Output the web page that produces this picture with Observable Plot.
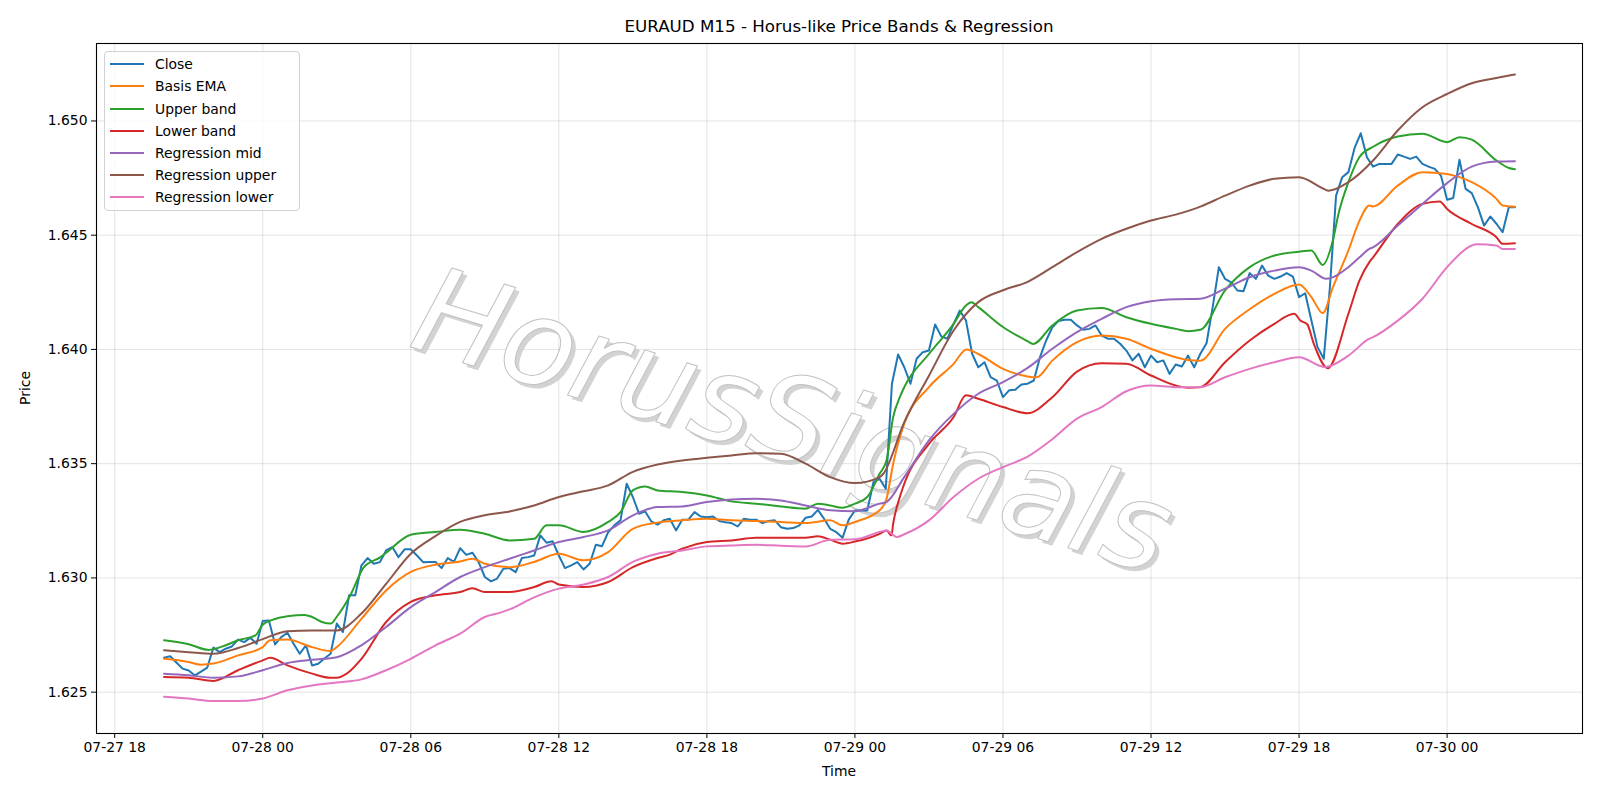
<!DOCTYPE html>
<html>
<head>
<meta charset="utf-8">
<script src="https://cdn.jsdelivr.net/npm/d3@7"></script>
<script src="https://cdn.jsdelivr.net/npm/@observablehq/plot@0.6"></script>
<style>
  body { margin: 0; background: #fff; font-family: "DejaVu Sans", sans-serif; }
  #wrap { position: relative; width: 1600px; height: 800px; overflow: hidden; background: #fff; }
  .title { position: absolute; left: 96px; width: 1486px; top: 15px; text-align: center; font-size: 16.7px; line-height: 22px; color: #000; }
  .xlabel { position: absolute; left: 96px; width: 1486px; top: 762px; text-align: center; font-size: 13.9px; line-height: 18px; color: #000; }
  .ylabel { position: absolute; left: 25px; top: 388px; font-size: 13.9px; line-height: 18px; color: #000; transform: translate(-50%, -50%) rotate(-90deg); white-space: nowrap; }
  .legend { position: absolute; left: 104px; top: 51px; width: 196px; height: 160px; box-sizing: border-box; border: 1px solid #d3d3d3; border-radius: 4px; background: rgba(255,255,255,0.8); z-index: 5; }
  .legend .row { position: absolute; left: 0; height: 18px; width: 190px; }
  .legend .swatch { position: absolute; left: 5px; top: 8px; width: 34px; height: 2px; }
  .legend .lab { position: absolute; left: 50px; top: 0; font-size: 13.9px; line-height: 18px; color: #000; white-space: nowrap; }
  #chart { position: absolute; left: 0; top: 0; }
</style>
</head>
<body>
<div id="wrap">
  <div id="chart"></div>
  <div class="title" id="title"></div>
  <div class="xlabel" id="xlabel"></div>
  <div class="ylabel" id="ylabel"></div>
  <div class="legend" id="legend"></div>
</div>
<script>
// ---------------- Data ----------------
const chartTitle = "EURAUD M15 - Horus-like Price Bands & Regression";
const xLabel = "Time";
const yLabel = "Price";
const watermarkText = ["HorusSignals"];

const seriesNames = ["Close", "Basis EMA", "Upper band", "Lower band", "Regression mid", "Regression upper", "Regression lower"];
const seriesColors = ["#1f77b4", "#ff7f0e", "#2ca02c", "#d62728", "#9467bd", "#8c564b", "#e377c2"];

const xTickTimes = ["2025-07-27T18:00Z", "2025-07-28T00:00Z", "2025-07-28T06:00Z", "2025-07-28T12:00Z", "2025-07-28T18:00Z",
                    "2025-07-29T00:00Z", "2025-07-29T06:00Z", "2025-07-29T12:00Z", "2025-07-29T18:00Z", "2025-07-30T00:00Z"];
const yTickValues = [1.625, 1.630, 1.635, 1.640, 1.645, 1.650];

// Close: one value per 15-minute bar starting 2025-07-27 20:00 UTC
const closeStart = "2025-07-27T20:00:00Z";
const closeStepMinutes = 15;
const closeValues = [
  1.62651, 1.62657, 1.6263, 1.62603, 1.62595, 1.62573, 1.6259, 1.62607, 1.62695, 1.62675,
  1.6269, 1.627, 1.6273, 1.62719, 1.62738, 1.62712, 1.62811, 1.62814, 1.62709, 1.62741,
  1.6276, 1.62712, 1.62668, 1.62705, 1.62617, 1.62624, 1.62647, 1.62668, 1.628, 1.62763,
  1.62924, 1.62924, 1.63055, 1.63087, 1.63062, 1.63069, 1.6312, 1.63135, 1.63091, 1.63125,
  1.63125, 1.63098, 1.63069, 1.6307, 1.6307, 1.63043, 1.63087, 1.6307, 1.6313, 1.63101,
  1.6311, 1.63069, 1.63004, 1.62985, 1.62997, 1.6304, 1.63043, 1.63025, 1.63087, 1.63091,
  1.63098, 1.63186, 1.63154, 1.6316, 1.63098, 1.63043, 1.63055, 1.63069, 1.63037, 1.63062,
  1.63145, 1.63139, 1.632, 1.6323, 1.63252, 1.63412, 1.63354, 1.63281, 1.63291, 1.63247,
  1.63233, 1.63252, 1.63259, 1.63208, 1.63255, 1.63255, 1.63288, 1.63269, 1.63266, 1.63269,
  1.63249, 1.63244, 1.6324, 1.63225, 1.63259, 1.63255, 1.63255, 1.6324, 1.63249, 1.63252,
  1.63222, 1.63215, 1.63218, 1.6323, 1.63263, 1.63269, 1.63298, 1.63259, 1.63215, 1.632,
  1.63176, 1.63255, 1.63295, 1.63295, 1.63295, 1.63419, 1.63434, 1.6339, 1.6385, 1.63978,
  1.63922, 1.6385, 1.63959, 1.63988, 1.63995, 1.64109, 1.64057, 1.64047, 1.64112, 1.6417,
  1.64127, 1.63981, 1.63922, 1.63944, 1.63879, 1.63864, 1.63791, 1.63821, 1.63824, 1.63847,
  1.6385, 1.63864, 1.63966, 1.64039, 1.64097, 1.64124, 1.6413, 1.6413, 1.64105, 1.64086,
  1.6409, 1.64105, 1.64061, 1.64047, 1.64047, 1.64025, 1.63995, 1.63952, 1.63981, 1.63922,
  1.63973, 1.63944, 1.63952, 1.63893, 1.63934, 1.63925, 1.63973, 1.63922, 1.63981, 1.64027,
  1.64185, 1.6436, 1.64309, 1.64294, 1.64258, 1.64255, 1.64334, 1.64309, 1.64367, 1.64323,
  1.64309, 1.64319, 1.64334, 1.64319, 1.64229, 1.64246, 1.64127, 1.6401, 1.63959, 1.64272,
  1.64673, 1.64754, 1.64776, 1.64882, 1.64946, 1.64841, 1.648, 1.64812, 1.64812, 1.64812,
  1.64853, 1.64844, 1.64834, 1.64844, 1.64812, 1.648, 1.6479, 1.64761, 1.64655, 1.64663,
  1.6483, 1.64703, 1.64684, 1.64622, 1.64542, 1.64582, 1.6455, 1.64513, 1.64622, 1.64622
];

// Smooth series: [hours from 2025-07-28 00:00 UTC, price]
const bandOrigin = "2025-07-28T00:00:00Z";
const basisEMA = [[-4,1.62646],[-3,1.62632],[-2.5,1.6262],[-2,1.62625],[-1,1.62661],[0,1.62697],[0.3,1.62727],[1,1.6273],[2,1.62697],[2.75,1.6268],[3,1.62697],[4,1.62821],[5,1.62945],[6,1.63026],[7,1.63058],[8,1.63072],[8.5,1.63084],[9,1.63062],[10,1.63047],[11,1.6307],[12,1.63106],[13,1.63077],[14,1.63113],[15,1.63215],[16,1.63242],[17,1.63252],[18,1.63259],[19,1.63252],[20,1.63249],[21,1.63245],[22,1.6324],[23,1.63252],[23.5,1.6323],[24,1.63245],[25,1.63296],[25.28,1.63346],[25.55,1.635],[25.82,1.63616],[26,1.63675],[27,1.63835],[28,1.63937],[28.52,1.64],[29,1.6398],[30,1.63915],[31,1.63882],[31.36,1.63878],[32,1.63951],[33,1.64032],[34,1.64061],[35,1.64047],[36,1.64003],[37,1.63966],[37.5,1.63954],[38,1.63951],[39,1.6409],[40,1.64176],[41,1.64243],[42,1.64284],[42.5,1.64229],[42.96,1.64159],[43.37,1.64272],[44,1.64433],[44.45,1.64564],[44.85,1.6463],[45,1.64626],[46,1.64717],[47,1.64776],[48,1.64768],[48.5,1.64754],[49,1.64732],[50,1.64659],[50.25,1.6463],[50.75,1.64625]];
const upperBand = [[-4,1.62727],[-3,1.6271],[-2.2,1.62685],[-1.5,1.62705],[-1,1.62727],[-0.3,1.62748],[0,1.62795],[0.5,1.6282],[1,1.62832],[1.7,1.62838],[2,1.62829],[2.4,1.62807],[2.75,1.628],[3,1.6283],[3.55,1.62924],[4.1,1.63047],[4.77,1.63091],[5,1.6311],[6,1.63189],[7,1.63201],[8,1.63211],[9,1.63193],[10,1.63164],[11,1.63171],[11.5,1.6323],[12,1.6323],[13,1.63201],[14,1.63245],[14.5,1.63288],[15,1.63383],[15.5,1.634],[16,1.63383],[17,1.63376],[18,1.63361],[19,1.63335],[20,1.63325],[21,1.63313],[22,1.63303],[22.5,1.63325],[23,1.63317],[23.5,1.63307],[24,1.63325],[24.5,1.63354],[25,1.63456],[25.28,1.63514],[25.55,1.63704],[25.82,1.63791],[26,1.63835],[27,1.6398],[28,1.64112],[28.5,1.64192],[28.72,1.64207],[29,1.64185],[30,1.64098],[31,1.64036],[31.22,1.64024],[32,1.64105],[33,1.6417],[34,1.64181],[35,1.64141],[36,1.64112],[37,1.6409],[37.5,1.6408],[38,1.64086],[39,1.64258],[40,1.6436],[41,1.64411],[42,1.64428],[42.5,1.64433],[42.96,1.6437],[43.37,1.64477],[43.6,1.64594],[44,1.64732],[44.45,1.64842],[45,1.64887],[46,1.64932],[47,1.64944],[48,1.64907],[48.5,1.64929],[49,1.64918],[50,1.64827],[50.5,1.64794],[50.75,1.64789]];
const lowerBand = [[-4,1.62566],[-3,1.62563],[-2,1.62549],[-1,1.62596],[0,1.62639],[0.3,1.6265],[1,1.62617],[2,1.62581],[2.75,1.62563],[3,1.62563],[3.4,1.62581],[4,1.62646],[5,1.62807],[6,1.62895],[7,1.62924],[8,1.62938],[8.5,1.62955],[9,1.62938],[10,1.62938],[11,1.6296],[11.7,1.62985],[12,1.62971],[13,1.6296],[14,1.62982],[15,1.63047],[16,1.63087],[16.5,1.63102],[17,1.63128],[18,1.63157],[19,1.63164],[20,1.63176],[21,1.63176],[22,1.63176],[22.5,1.63182],[23,1.63167],[23.5,1.6315],[24,1.63159],[25,1.63193],[25.28,1.63208],[25.48,1.63186],[25.55,1.63237],[25.82,1.63354],[26,1.63412],[27,1.63587],[28,1.63704],[28.5,1.63799],[29,1.63784],[30,1.63748],[31,1.63721],[32,1.63791],[33,1.63903],[34,1.6394],[35,1.63937],[36,1.63886],[37,1.63842],[37.5,1.63832],[38,1.63835],[39,1.63944],[40,1.64039],[41,1.64112],[41.8,1.64156],[42.06,1.64126],[42.33,1.6411],[42.6,1.64024],[43.16,1.63918],[44,1.64156],[44.45,1.64302],[44.85,1.64382],[45,1.64403],[46,1.64549],[47,1.64637],[47.7,1.64648],[48,1.64615],[49,1.64549],[50,1.64491],[50.25,1.64462],[50.75,1.64465]];
const regressionMid = [[-4,1.62581],[-3,1.62574],[-2,1.62563],[-1,1.62569],[0,1.62596],[1,1.62628],[2,1.62642],[3,1.62653],[4,1.62705],[5,1.62785],[6,1.62872],[7,1.62938],[8,1.63004],[9,1.63047],[10,1.63084],[11,1.6312],[12,1.63157],[13,1.63179],[14,1.63208],[15,1.63274],[16,1.6331],[17,1.63313],[18,1.63332],[19,1.63343],[20,1.63346],[21,1.63339],[22,1.63317],[23,1.63296],[24,1.63292],[25,1.63325],[25.28,1.63332],[26,1.63441],[27,1.63602],[28,1.63718],[29,1.63806],[30,1.63857],[31,1.63919],[32,1.64003],[33,1.64076],[34,1.64134],[35,1.64185],[36,1.64211],[37,1.6422],[38,1.64222],[39,1.64266],[40,1.64316],[41,1.64345],[42,1.6436],[42.5,1.64345],[43.1,1.64309],[44,1.6436],[44.45,1.64403],[44.85,1.6444],[45,1.64447],[46,1.64542],[47,1.64637],[48,1.64728],[49,1.648],[50,1.64822],[50.75,1.64824]];
const regressionUpper = [[-4,1.62683],[-3,1.62675],[-2,1.62668],[-1,1.62693],[0,1.62732],[1,1.62767],[2,1.6277],[3,1.6277],[4,1.62844],[5,1.62974],[6,1.63106],[7,1.63183],[8,1.63245],[9,1.63274],[10,1.63291],[11,1.63317],[12,1.63354],[13,1.63379],[14,1.63405],[15,1.63464],[16,1.63496],[17,1.63514],[18,1.63526],[19,1.63536],[20,1.63546],[21,1.63543],[22,1.635],[23,1.63441],[24,1.63415],[25,1.63441],[25.15,1.63456],[26,1.63682],[27,1.63885],[28,1.64083],[29,1.64207],[30,1.64259],[31,1.64296],[32,1.6436],[33,1.64426],[34,1.64484],[35,1.64528],[36,1.64564],[37,1.6459],[38,1.64625],[39,1.64673],[40,1.64717],[41,1.64747],[42,1.64754],[43,1.64703],[43.2,1.64695],[44,1.64732],[45,1.64827],[46,1.64958],[47,1.6506],[48,1.65118],[49,1.65165],[50,1.65188],[50.75,1.65203]];
const regressionLower = [[-4,1.6248],[-3,1.62472],[-2,1.62461],[-1,1.62461],[0,1.62472],[1,1.62508],[2,1.62529],[3,1.62542],[4,1.62556],[5,1.62596],[6,1.62646],[7,1.62705],[8,1.62756],[9,1.62829],[9.63,1.62848],[10,1.62862],[11,1.62915],[12,1.62953],[13,1.62971],[14,1.63004],[15,1.6307],[16,1.63106],[17,1.6312],[18,1.63138],[19,1.63142],[20,1.63145],[21,1.63141],[22,1.63138],[23,1.63167],[24,1.63169],[25,1.63201],[25.28,1.63208],[25.7,1.63179],[26,1.63191],[27,1.63252],[28,1.63354],[29,1.63434],[30,1.63485],[31,1.63531],[32,1.63607],[33,1.63697],[34,1.63748],[35,1.63817],[36,1.63842],[37,1.63835],[38,1.63835],[39,1.63878],[40,1.63915],[41,1.63944],[42,1.63966],[43.05,1.63923],[44,1.63973],[44.85,1.64047],[45,1.64054],[46,1.64126],[47,1.64222],[48,1.6436],[49,1.64455],[49.2,1.6446],[50,1.64455],[50.25,1.6444],[50.75,1.6444]];

// ---------------- Build tables ----------------
const t0Close = new Date(closeStart).getTime();
const tOrigin = new Date(bandOrigin).getTime();
const HOUR = 3600000;

const rows = [];
closeValues.forEach((v, i) => rows.push({series: seriesNames[0], t: new Date(t0Close + i * closeStepMinutes * 60000), v}));
const smoothSets = [basisEMA, upperBand, lowerBand, regressionMid, regressionUpper, regressionLower];
smoothSets.forEach((arr, si) => arr.forEach(([h, v]) => rows.push({series: seriesNames[si + 1], t: new Date(tOrigin + h * HOUR), v})));

const xTicks = xTickTimes.map(s => new Date(s));
const fmtX = d3.utcFormat("%m-%d %H");
const fmtY = d3.format(".3f");

const xDomain = [new Date(tOrigin - 6.7375 * HOUR), new Date(tOrigin + 53.4875 * HOUR)];
const yDomain = [1.62319, 1.65339];

const lineMarks = seriesNames.map((name, i) =>
  Plot.line(rows.filter(d => d.series === name), {
    x: "t", y: "v",
    stroke: seriesColors[i],
    strokeWidth: 2,
    strokeLinejoin: "round",
    curve: i === 0 ? "linear" : "monotone-x"
  })
);

const chart = Plot.plot({
  width: 1600,
  height: 800,
  marginTop: 43,
  marginBottom: 67,
  marginLeft: 96,
  marginRight: 18,
  style: {fontFamily: "DejaVu Sans, sans-serif", fontSize: "13.9px", background: "white", color: "black"},
  x: {type: "utc", domain: xDomain},
  y: {domain: yDomain},
  marks: [
    Plot.gridX(xTicks, {stroke: "#b0b0b0", strokeOpacity: 0.35, strokeWidth: 1}),
    Plot.gridY(yTickValues, {stroke: "#b0b0b0", strokeOpacity: 0.35, strokeWidth: 1}),
    // watermark shadow + main text
    Plot.text(watermarkText, {text: d => d, frameAnchor: "middle", dx: -43, dy: 39, rotate: 17, fontSize: 120,
      fontStyle: "italic", fontFamily: "DejaVu Sans", fill: "#cbcbcb", fillOpacity: 0.85, textAnchor: "middle", lineAnchor: "middle"}),
    Plot.text(watermarkText, {text: d => d, frameAnchor: "middle", dx: -47, dy: 35, rotate: 17, fontSize: 120,
      fontStyle: "italic", fontFamily: "DejaVu Sans", fill: "white", stroke: "#c2c2c2", strokeWidth: 1,
      paintOrder: "normal", textAnchor: "middle", lineAnchor: "middle"}),
    ...lineMarks,
    Plot.axisX({ticks: xTicks, tickFormat: fmtX, tickSize: 5, tickPadding: 4, label: null}),
    Plot.axisY({ticks: yTickValues, tickFormat: fmtY, tickSize: 5, tickPadding: 4, label: null}),
    Plot.frame({stroke: "black", strokeWidth: 1.1})
  ]
});
document.getElementById("chart").appendChild(chart);

document.getElementById("title").textContent = chartTitle;
document.getElementById("xlabel").textContent = xLabel;
document.getElementById("ylabel").textContent = yLabel;

const legend = document.getElementById("legend");
seriesNames.forEach((name, i) => {
  const row = document.createElement("div");
  row.className = "row";
  row.style.top = (3.3 + 22.1 * i) + "px";
  const sw = document.createElement("div");
  sw.className = "swatch";
  sw.style.background = seriesColors[i];
  const lab = document.createElement("div");
  lab.className = "lab";
  lab.textContent = name;
  row.appendChild(sw);
  row.appendChild(lab);
  legend.appendChild(row);
});
</script>
</body>
</html>
